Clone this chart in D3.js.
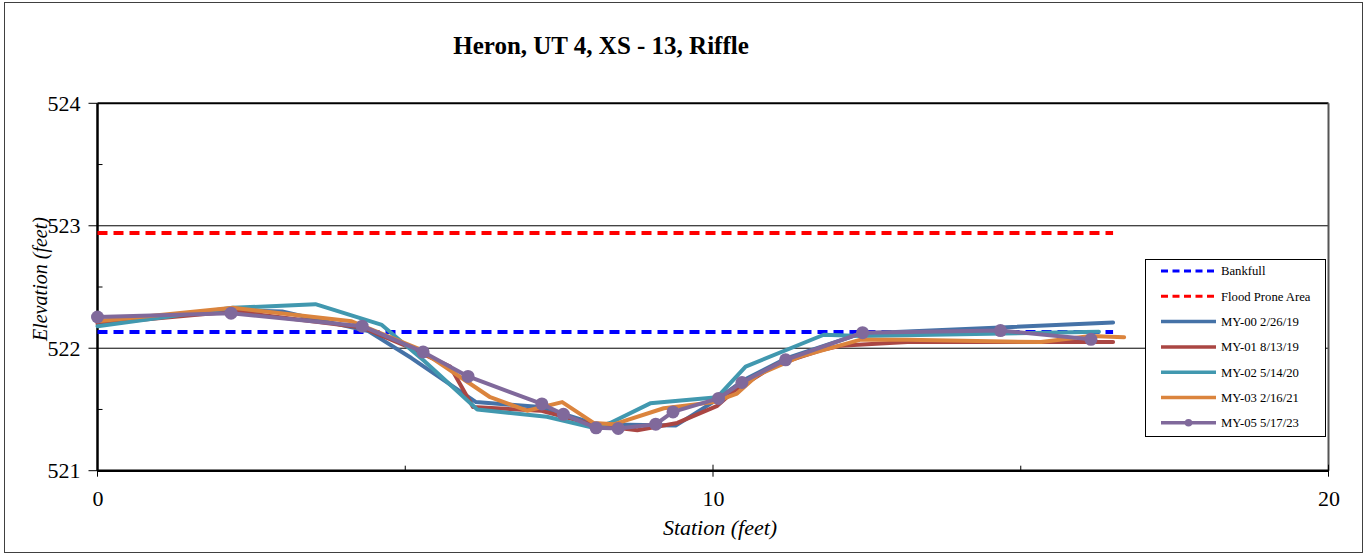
<!DOCTYPE html>
<html>
<head>
<meta charset="utf-8">
<script src="https://cdn.jsdelivr.net/npm/d3@7"></script>
<style>
  html, body { margin: 0; padding: 0; background: #fff; }
  svg { display: block; font-family: "Liberation Serif", "Times New Roman", serif; }
</style>
</head>
<body>
<svg id="chart" width="1367" height="555"></svg>
<script>
// Cross-section survey, Heron UT 4, XS-13 (riffle)
const title = "Heron, UT 4, XS - 13, Riffle";
const xTicks = [0, 10, 20];
const xMinorTicks = [5, 15];
const yTicks = [521, 522, 523, 524];
const yMinorTicks = [521.5, 522.5, 523.5];

const bankfullElev = 522.133;
const floodProneElev = 522.94;
const refLineStations = [0, 16.5];

const my00Station = [0, 2.2, 3.0, 4.4, 5.1, 6.15, 7.2, 8.1, 9.4, 10.0, 10.5, 11.2, 12.4, 16.5];
const my00Elev    = [522.22, 522.31, 522.30, 522.14, 521.92, 521.56, 521.52, 521.38, 521.37, 521.56, 521.74, 521.92, 522.12, 522.21];

const my01Station = [0, 2.2, 4.3, 5.0, 5.73, 6.1, 7.2, 8.1, 8.77, 9.42, 10.07, 10.34, 11.0, 11.8, 12.07, 13.16, 16.5];
const my01Elev    = [522.2, 522.3, 522.17, 522.02, 521.85, 521.52, 521.49, 521.37, 521.33, 521.39, 521.53, 521.65, 521.86, 521.99, 522.02, 522.05, 522.05];

const my02Station = [0, 2.2, 3.54, 4.62, 5.3, 6.17, 7.3, 8.06, 8.33, 8.98, 10.07, 10.53, 11.8, 12.4, 16.27];
const my02Elev    = [522.18, 522.33, 522.36, 522.19, 521.9, 521.5, 521.44, 521.35, 521.39, 521.55, 521.6, 521.85, 522.11, 522.1, 522.135];

const my03Station = [0, 2.2, 4.13, 5.2, 6.38, 6.98, 7.55, 8.06, 8.4, 9.2, 10.01, 10.39, 10.72, 11.4, 12.4, 13.16, 15.33, 16.14, 16.68];
const my03Elev    = [522.22, 522.33, 522.22, 522.0, 521.6, 521.49, 521.56, 521.39, 521.38, 521.51, 521.56, 521.63, 521.78, 521.93, 522.07, 522.07, 522.05, 522.1, 522.09];

const my05Station = [0, 2.17, 4.30, 5.29, 6.02, 7.22, 7.57, 8.10, 8.46, 9.07, 9.35, 10.09, 10.47, 11.18, 12.43, 14.67, 16.14];
const my05Elev    = [522.255, 522.286, 522.18, 521.97, 521.77, 521.545, 521.46, 521.35, 521.345, 521.38, 521.48, 521.59, 521.72, 521.905, 522.127, 522.144, 522.073];

const seriesNames = ["Bankfull", "Flood Prone Area", "MY-00 2/26/19", "MY-01 8/13/19", "MY-02 5/14/20", "MY-03 2/16/21", "MY-05 5/17/23"];
const seriesColors = ["#0000ff", "#ff0000", "#4572A7", "#AA4643", "#4198AF", "#DB843D", "#80699B"];

const svg = d3.select("#chart");
const W = 1367, H = 555;
const plot = { left: 97.5, right: 1328.5, top: 103.3, bottom: 470.7 };

const x = d3.scaleLinear().domain([0, 20]).range([plot.left, plot.right]);
const y = d3.scaleLinear().domain([521, 524]).range([plot.bottom, plot.top]);

// outer frame
svg.append("rect").attr("x", 4.5).attr("y", 2.5).attr("width", W - 9).attr("height", H - 5)
  .attr("fill", "#fff").attr("stroke", "#404040").attr("stroke-width", 1);

// title
svg.append("text").attr("x", 601).attr("y", 54).attr("text-anchor", "middle")
  .attr("font-size", 25).attr("font-weight", "bold").text(title);

// horizontal gridlines
svg.append("g").selectAll("line").data([522, 523]).join("line")
  .attr("x1", plot.left).attr("x2", plot.right)
  .attr("y1", d => y(d)).attr("y2", d => y(d))
  .attr("stroke", "#000").attr("stroke-width", 1);

// plot frame: top and right
svg.append("line").attr("x1", plot.left).attr("x2", plot.right).attr("y1", plot.top).attr("y2", plot.top)
  .attr("stroke", "#000").attr("stroke-width", 2);
svg.append("line").attr("x1", plot.right).attr("x2", plot.right).attr("y1", plot.top).attr("y2", plot.bottom)
  .attr("stroke", "#555").attr("stroke-width", 2);

// axes
const xAxis = d3.axisBottom(x).tickValues(xTicks).tickSize(0).tickFormat(d3.format("d"));
const gx = svg.append("g").attr("transform", `translate(0,${plot.bottom})`).call(xAxis);
gx.select(".domain").remove();
gx.selectAll("text").attr("font-size", 22).attr("fill", "#000").attr("dy", "0").attr("y", 35)
  .style("font-family", "Liberation Serif, serif");

const yAxis = d3.axisLeft(y).tickValues(yTicks).tickSize(0).tickFormat(d3.format("d"));
const gy = svg.append("g").attr("transform", `translate(${plot.left},0)`).call(yAxis);
gy.select(".domain").remove();
gy.selectAll("text").attr("font-size", 22).attr("fill", "#000").attr("x", -17).attr("dy", "0.32em")
  .style("font-family", "Liberation Serif, serif");

// tick marks
svg.append("g").selectAll("line").data(yTicks).join("line")
  .attr("x1", plot.left - 9).attr("x2", plot.left).attr("y1", d => y(d)).attr("y2", d => y(d))
  .attr("stroke", "#000").attr("stroke-width", 1);
svg.append("g").selectAll("line").data(yMinorTicks).join("line")
  .attr("x1", plot.left).attr("x2", plot.left + 5).attr("y1", d => y(d)).attr("y2", d => y(d))
  .attr("stroke", "#000").attr("stroke-width", 1);
svg.append("g").selectAll("line").data(xTicks).join("line")
  .attr("x1", d => x(d)).attr("x2", d => x(d)).attr("y1", plot.bottom - 6).attr("y2", plot.bottom + 6)
  .attr("stroke", "#000").attr("stroke-width", 1);
svg.append("g").selectAll("line").data(xMinorTicks).join("line")
  .attr("x1", d => x(d)).attr("x2", d => x(d)).attr("y1", plot.bottom - 5).attr("y2", plot.bottom)
  .attr("stroke", "#000").attr("stroke-width", 1);

// axis lines (left and bottom)
svg.append("line").attr("x1", plot.left).attr("x2", plot.left).attr("y1", plot.top).attr("y2", plot.bottom)
  .attr("stroke", "#000").attr("stroke-width", 2.5);
svg.append("line").attr("x1", plot.left).attr("x2", plot.right).attr("y1", plot.bottom).attr("y2", plot.bottom)
  .attr("stroke", "#000").attr("stroke-width", 2.5);

// axis titles
svg.append("text").attr("x", 720).attr("y", 535).attr("text-anchor", "middle")
  .attr("font-size", 22).attr("font-style", "italic").text("Station (feet)");
svg.append("text").attr("transform", `translate(47,279) rotate(-90)`)
  .attr("text-anchor", "middle").attr("font-size", 20).attr("font-style", "italic").text("Elevation (feet)");

const line = d3.line().x(d => x(d[0])).y(d => y(d[1]));
const zip = (a, b) => a.map((v, i) => [v, b[i]]);

// reference elevation lines
const dash = "10,6";
svg.append("path").datum(refLineStations.map(s => [s, floodProneElev])).attr("d", line)
  .attr("fill", "none").attr("stroke", seriesColors[1]).attr("stroke-width", 4).attr("stroke-dasharray", dash);
svg.append("path").datum(refLineStations.map(s => [s, bankfullElev])).attr("d", line)
  .attr("fill", "none").attr("stroke", seriesColors[0]).attr("stroke-width", 4).attr("stroke-dasharray", dash);

// survey lines
const surveys = [
  [my00Station, my00Elev, seriesColors[2]],
  [my01Station, my01Elev, seriesColors[3]],
  [my02Station, my02Elev, seriesColors[4]],
  [my03Station, my03Elev, seriesColors[5]],
  [my05Station, my05Elev, seriesColors[6]],
];
surveys.forEach(([s, e, c]) => {
  svg.append("path").datum(zip(s, e)).attr("d", line)
    .attr("fill", "none").attr("stroke", c).attr("stroke-width", 4)
    .attr("stroke-linejoin", "round").attr("stroke-linecap", "round");
});
svg.append("g").selectAll("circle").data(zip(my05Station, my05Elev)).join("circle")
  .attr("cx", d => x(d[0])).attr("cy", d => y(d[1])).attr("r", 6.5).attr("fill", seriesColors[6]);

// legend
const lg = svg.append("g");
lg.append("rect").attr("x", 1145.5).attr("y", 259.5).attr("width", 180).attr("height", 177)
  .attr("fill", "#fff").attr("stroke", "#000").attr("stroke-width", 1);
seriesNames.forEach((name, i) => {
  const yy = 271 + i * 25.3;
  const ln = lg.append("line").attr("x1", 1161).attr("x2", 1216).attr("y1", yy).attr("y2", yy)
    .attr("stroke", seriesColors[i]).attr("stroke-width", i < 2 ? 3 : 3.5);
  if (i < 2) ln.attr("stroke-dasharray", "7,4.5");
  if (i === 6) lg.append("circle").attr("cx", 1188.5).attr("cy", yy).attr("r", 3.8).attr("fill", seriesColors[6]);
  lg.append("text").attr("x", 1221).attr("y", yy).attr("dy", "0.35em").attr("font-size", 12.7).text(name);
});
</script>
</body>
</html>
